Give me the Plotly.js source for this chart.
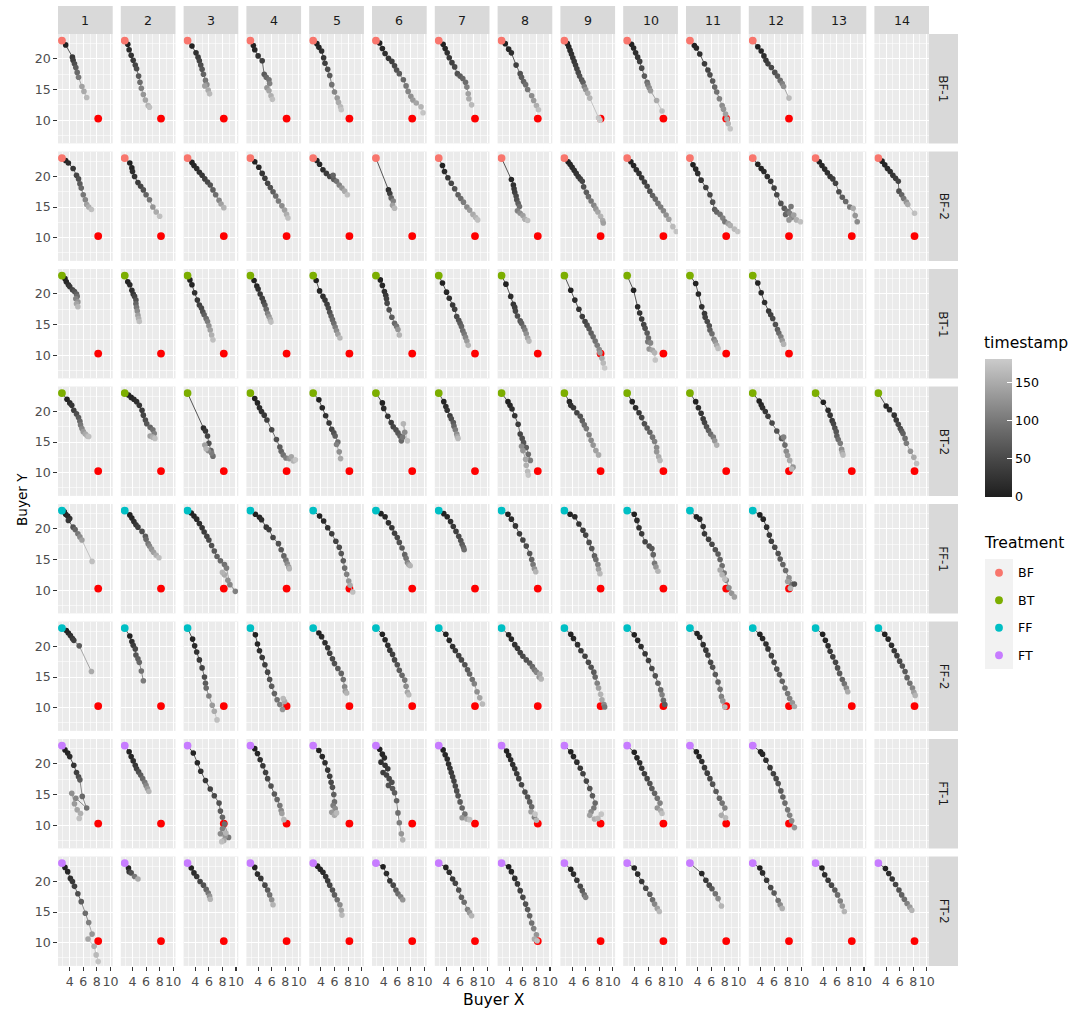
<!DOCTYPE html>
<html>
<head>
<meta charset="utf-8">
<script src="https://cdn.plot.ly/plotly-3.0.1.min.js"></script>
<style>
  html, body { margin: 0; padding: 0; background: #ffffff; }
  #chart { width: 1076px; height: 1016px; }
</style>
</head>
<body>
<div id="chart"></div>
<script>
// Facet rows (session) and columns (round)
const sessions = ['BF-1', 'BF-2', 'BT-1', 'BT-2', 'FF-1', 'FF-2', 'FT-1', 'FT-2'];
const rounds = [1, 2, 3, 4, 5, 6, 7, 8, 9, 10, 11, 12, 13, 14];
const treatments = ['BF', 'BT', 'FF', 'FT'];
const treatmentColors = ['#F8766D', '#7CAE00', '#00BFC4', '#C77CFF'];
const sessionTreatment = ['BF', 'BF', 'BT', 'BT', 'FF', 'FF', 'FT', 'FT'];

// Buyer start position and the seller (target) position
const startPoint = [2.85, 23];
const targetPoint = [8.2, 10.25];

// Buyer positions per round: [Buyer X, Buyer Y, timestamp]; null = round not played
const pathsBF1 = [
  [[3.4,22.3,5],[4.4,20.3,30],[4.5,19.8,40],[4.7,19.2,55],[4.9,18.6,70],[5.1,17.8,85],[5.3,17.0,100],[5.8,15.5,140],[6.1,14.7,150],[6.5,13.7,165]],
  [[3.3,22.4,5],[3.5,21.5,15],[3.8,20.6,25],[4.1,19.8,35],[4.4,19.0,45],[4.6,18.4,55],[4.9,17.2,70],[5.1,16.2,90],[5.3,15.2,110],[5.6,14.2,130],[5.9,13.3,145],[6.3,12.4,160],[6.5,12.1,170]],
  [[3.5,22.1,5],[4.1,21.0,20],[4.4,20.3,35],[4.6,19.7,45],[4.8,19.0,55],[5.0,18.3,65],[5.2,17.5,80],[5.5,16.5,100],[5.7,15.8,120],[5.4,15.6,140],[5.9,14.9,150],[6.1,14.3,165]],
  [[3.3,22.2,3],[3.5,21.5,10],[4.0,20.5,25],[4.6,19.7,40],[4.9,17.5,70],[5.2,17.0,85],[5.6,16.6,95],[5.7,16.0,110],[5.3,15.3,130],[5.6,14.8,145],[5.9,14.0,155],[6.1,13.4,170]],
  [[3.4,22.5,3],[3.7,21.9,10],[4.1,21.3,20],[4.4,20.2,30],[4.6,19.3,40],[5.0,18.3,55],[5.3,17.3,70],[5.6,15.8,95],[6.0,14.6,115],[6.4,13.6,135],[6.6,12.9,150],[6.9,12.2,165],[7.0,11.7,175]],
  [[3.4,22.6,3],[3.8,21.7,10],[4.2,20.9,20],[4.7,20.1,30],[5.2,19.6,40],[5.6,18.9,50],[5.9,18.2,60],[6.3,17.6,70],[6.9,16.6,85],[7.3,15.6,100],[7.6,14.7,115],[8.0,13.9,125],[8.3,13.3,135],[8.8,12.8,145],[9.5,12.2,160],[9.8,11.2,175]],
  [[3.5,22.4,3],[3.8,21.7,10],[4.1,21.0,20],[4.4,20.2,30],[4.8,19.4,40],[5.2,18.7,50],[5.6,17.6,60],[6.0,17.2,70],[6.4,16.8,80],[6.8,16.2,90],[7.0,15.4,110],[7.2,14.3,140],[7.3,13.5,150],[7.7,12.5,165]],
  [[3.4,22.5,3],[3.9,21.6,10],[4.3,21.0,20],[5.0,19.0,40],[5.6,17.6,60],[5.8,17.0,70],[6.1,16.3,80],[6.4,15.8,90],[6.7,15.0,100],[7.3,14.0,120],[7.6,13.2,135],[8.0,12.4,155],[8.3,11.7,170]],
  [[3.3,22.5,3],[3.5,22.0,8],[3.7,21.4,14],[3.9,20.8,20],[4.1,20.2,26],[4.3,19.6,32],[4.5,19.0,38],[4.7,18.4,44],[4.9,17.8,50],[5.1,17.2,58],[5.4,16.6,66],[5.6,16.2,75],[5.8,15.5,110],[6.0,15.0,130],[6.3,14.4,150],[6.6,13.6,160],[7.9,10.4,175],[8.1,10.0,180]],
  [[3.5,22.4,3],[3.8,21.8,10],[4.1,21.0,20],[4.4,20.3,30],[4.7,19.6,40],[5.0,18.5,55],[5.4,17.2,70],[5.8,16.2,90],[5.9,15.8,105],[6.1,15.3,120],[6.3,14.8,135],[7.2,13.2,150],[8.0,11.5,170]],
  [[3.5,22.2,3],[3.8,21.8,10],[4.3,20.8,20],[5.0,19.2,35],[5.5,18.2,45],[5.8,17.4,55],[6.2,16.4,70],[6.5,15.4,85],[6.8,14.6,95],[7.2,13.5,110],[7.6,12.4,120],[7.8,11.8,130],[8.1,11.0,140],[8.3,10.2,150],[8.5,9.4,160],[8.8,8.6,175]],
  [[3.6,22.0,3],[4.1,21.3,10],[4.5,20.5,20],[4.8,19.8,30],[5.1,19.2,40],[5.6,18.6,50],[6.1,17.8,60],[6.5,17.2,70],[6.9,16.5,90],[7.2,16.0,110],[7.4,15.5,125],[8.2,13.6,165]],
  null,
  null
];

const pathsBF2 = [
  [[3.4,22.6,5],[3.8,22.2,15],[4.5,21.3,30],[5.0,20.2,45],[5.3,19.6,55],[5.5,18.8,70],[5.7,18.1,85],[6.0,17.0,100],[6.3,16.2,115],[6.5,15.4,140],[6.8,15.0,155],[7.2,14.6,170]],
  [[3.6,22.2,3],[3.9,21.4,10],[4.0,20.8,18],[4.3,20.0,25],[4.8,19.0,35],[5.2,18.4,45],[5.6,17.8,60],[6.0,17.0,80],[6.5,16.2,100],[7.0,15.0,130],[7.5,14.2,150],[8.0,13.5,170]],
  [[3.5,22.3,3],[3.8,21.8,8],[4.2,21.3,15],[4.6,20.7,22],[5.0,20.2,30],[5.4,19.6,40],[5.8,19.1,50],[6.2,18.6,60],[6.6,17.8,75],[7.0,17.0,90],[7.5,16.1,115],[7.8,15.5,140],[8.2,14.9,160]],
  [[3.5,22.4,3],[4.1,21.5,10],[4.6,20.5,25],[5.0,19.7,35],[5.4,18.9,45],[5.8,18.2,60],[6.2,17.5,75],[6.6,16.8,90],[7.0,16.0,105],[7.5,15.2,120],[7.9,14.5,140],[8.2,13.8,155],[8.4,13.2,170]],
  [[3.4,22.6,3],[3.8,22.0,10],[4.3,21.1,20],[4.8,20.5,35],[5.3,20.0,50],[5.9,19.5,70],[5.8,20.2,80],[6.3,19.2,95],[6.7,18.6,110],[7.1,18.1,130],[7.5,17.6,150],[7.9,17.0,170]],
  [[4.7,17.8,20],[4.9,17.2,40],[5.1,16.5,80],[5.4,16.0,110],[5.3,15.3,140],[5.6,14.8,165]],
  [[3.4,21.8,5],[3.7,20.8,15],[4.2,19.8,30],[4.7,18.9,45],[5.2,18.0,60],[5.7,17.0,75],[6.1,16.4,90],[6.5,15.8,105],[7.0,15.0,120],[7.4,14.5,135],[7.9,13.8,150],[8.3,13.3,160],[8.6,12.9,170]],
  [[4.3,19.5,10],[4.6,18.6,20],[4.7,18.0,30],[4.8,17.4,40],[5.0,16.8,50],[5.1,16.2,60],[5.3,15.6,75],[5.5,15.1,90],[5.2,14.4,110],[5.6,14.0,125],[6.0,13.6,140],[6.3,13.0,155],[6.7,12.8,170]],
  [[3.4,22.4,3],[3.7,22.0,8],[4.0,21.5,14],[4.3,21.0,20],[4.6,20.5,26],[4.9,20.0,32],[5.2,19.6,40],[5.5,19.2,48],[5.7,18.3,58],[6.1,17.4,70],[6.4,16.7,85],[6.8,16.0,100],[7.2,15.3,115],[7.5,14.7,130],[7.8,14.2,145],[8.2,13.5,160],[8.5,12.8,150],[8.6,12.4,140]],
  [[3.4,22.4,3],[3.8,21.8,8],[4.2,21.1,15],[4.6,20.5,22],[5.0,19.8,30],[5.4,19.1,40],[5.8,18.4,50],[6.2,17.6,60],[6.6,16.9,75],[7.0,16.3,85],[7.4,15.6,95],[7.8,15.0,105],[8.2,14.4,115],[8.6,13.7,125],[9.0,13.0,140],[9.6,11.8,165],[10.1,11.0,175]],
  [[3.3,21.9,3],[3.7,21.2,10],[4.0,20.5,18],[4.5,19.4,28],[5.2,18.2,40],[5.8,17.0,50],[6.2,15.8,60],[6.5,14.6,70],[6.8,14.2,80],[7.3,13.8,95],[7.7,13.2,110],[8.0,12.6,100],[8.5,12.3,140],[8.8,12.0,155],[9.4,11.4,165],[9.9,11.0,175]],
  [[3.6,22.0,3],[4.1,21.3,8],[4.5,20.8,15],[5.0,20.0,22],[5.5,19.2,30],[6.0,18.1,40],[6.4,17.0,50],[7.0,15.6,60],[7.5,14.8,70],[7.7,13.8,80],[8.0,14.3,90],[8.5,15.1,100],[8.3,14.0,110],[8.6,13.3,120],[8.2,12.9,130],[8.9,13.7,140],[9.3,12.9,155],[9.9,12.6,170]],
  [[3.4,22.4,3],[3.8,21.8,8],[4.2,21.2,14],[4.6,20.6,20],[5.0,20.0,28],[5.4,19.6,36],[5.8,18.9,45],[6.3,17.5,55],[6.8,16.6,70],[7.3,15.9,85],[7.9,15.0,100],[8.4,14.8,150],[8.7,13.6,130],[9.0,12.6,120]],
  [[3.4,22.5,3],[3.8,21.9,8],[4.2,21.3,14],[4.6,20.8,20],[5.0,20.2,28],[5.4,19.7,36],[5.8,19.2,45],[5.9,17.6,60],[6.3,17.0,80],[6.6,16.4,100],[7.0,15.8,130],[7.2,15.4,150],[8.2,14.0,170]]
];

const pathsBT1 = [
  [[3.3,22.5,3],[3.5,22.0,10],[3.8,21.5,20],[4.0,21.2,30],[4.4,20.7,45],[4.7,20.4,60],[5.0,20.0,75],[5.1,19.6,90],[4.9,19.2,110],[5.2,18.7,130],[5.0,18.4,145],[5.2,17.9,165]],
  [[3.3,22.0,3],[3.6,21.5,10],[3.9,20.6,20],[4.1,20.0,30],[4.3,19.6,45],[4.5,19.0,60],[4.5,18.4,80],[4.6,17.8,100],[4.7,17.2,120],[4.8,16.5,140],[4.9,16.0,155],[5.0,15.5,170]],
  [[3.2,22.3,3],[3.5,21.5,10],[3.9,20.2,20],[4.3,19.0,30],[4.6,18.2,40],[4.9,17.7,50],[5.1,17.1,60],[5.3,16.6,75],[5.6,16.0,90],[5.8,15.5,105],[6.0,14.8,125],[6.2,14.1,140],[6.4,13.3,155],[6.6,12.5,170]],
  [[3.4,22.2,3],[3.8,21.3,10],[4.0,20.8,20],[4.3,20.0,30],[4.6,19.3,40],[4.8,18.7,50],[5.0,18.2,65],[5.2,17.5,85],[5.4,16.8,110],[5.6,16.3,130],[5.8,15.8,150],[5.9,15.4,170]],
  [[3.3,22.2,3],[3.8,20.5,10],[4.3,19.6,20],[4.6,19.0,30],[4.9,18.3,40],[5.1,17.7,50],[5.3,17.0,60],[5.5,16.4,70],[5.7,15.8,80],[5.9,15.2,90],[6.1,14.6,105],[6.3,14.0,120],[6.5,13.4,140],[6.8,12.8,165]],
  [[3.5,22.3,3],[3.8,21.4,10],[4.1,20.4,20],[4.3,19.8,30],[4.4,19.2,40],[4.5,18.5,50],[4.8,17.4,60],[5.2,16.2,70],[5.6,15.2,85],[5.9,14.7,100],[6.1,14.2,130],[6.3,13.3,160]],
  [[3.4,21.8,3],[4.0,20.3,10],[4.4,19.3,20],[4.9,18.2,30],[5.2,17.5,40],[5.5,16.3,50],[5.8,15.7,60],[6.0,15.2,70],[6.2,14.7,80],[6.4,14.0,90],[6.6,13.5,100],[6.8,12.9,115],[7.0,12.3,135],[7.2,11.6,160]],
  [[3.5,21.6,5],[4.2,19.6,15],[4.6,18.3,25],[4.8,17.8,35],[4.9,17.2,45],[5.2,16.4,55],[5.6,15.6,65],[5.8,15.2,75],[6.1,14.6,90],[6.3,14.1,105],[6.5,13.5,125],[6.7,12.8,145],[6.9,12.3,165]],
  [[3.8,20.6,5],[4.4,19.0,15],[5.0,17.5,25],[5.5,16.3,35],[5.9,15.5,45],[6.2,14.9,55],[6.5,14.3,65],[6.8,13.6,75],[7.1,13.0,85],[7.4,12.3,95],[7.7,11.6,105],[8.0,10.9,120],[8.1,10.4,135],[8.4,9.5,150],[8.6,8.7,165],[8.8,7.9,180]],
  [[3.8,20.6,5],[4.4,17.9,15],[4.7,16.9,25],[5.0,15.9,35],[5.3,15.0,45],[5.5,14.4,55],[5.8,13.6,70],[6.0,12.8,85],[5.9,12.2,100],[6.3,12.0,115],[6.1,11.0,130],[6.6,10.8,145],[6.9,10.4,160],[7.0,9.2,175]],
  [[3.7,21.7,3],[4.1,20.0,10],[4.6,17.9,20],[5.0,16.8,30],[5.1,16.2,40],[5.4,15.5,50],[5.7,14.8,60],[5.8,14.1,75],[6.1,13.5,90],[6.4,12.6,110],[6.6,12.2,130],[6.8,11.6,150],[7.0,11.1,170]],
  [[3.6,21.8,3],[4.1,20.2,10],[4.6,18.6,20],[5.2,17.2,30],[5.5,16.6,40],[5.8,16.0,50],[6.2,15.0,60],[6.5,14.2,75],[6.7,13.6,90],[7.0,13.0,110],[7.2,12.4,135],[7.4,11.8,160]],
  null,
  null
];

const pathsBT2 = [
  [[3.6,22.0,5],[4.0,21.4,15],[4.3,21.0,25],[4.6,20.2,40],[5.0,19.6,55],[5.3,19.0,70],[5.5,18.4,85],[5.6,17.8,100],[5.8,17.2,115],[6.0,16.7,135],[6.3,16.3,150],[6.6,16.0,160],[6.8,15.9,170]],
  [[3.4,22.7,3],[3.8,22.3,8],[4.2,22.0,14],[4.6,21.6,20],[5.0,21.0,28],[5.4,20.2,36],[5.6,19.4,45],[5.9,18.6,55],[6.1,18.0,65],[6.6,17.4,80],[7.0,17.0,95],[7.2,16.4,110],[6.6,16.0,140],[7.0,15.8,155],[7.3,15.6,170]],
  [[5.2,17.3,15],[5.5,16.8,30],[5.8,16.0,45],[6.0,14.8,60],[6.3,13.6,75],[6.6,12.7,90],[6.4,13.2,105],[5.9,13.6,120],[5.4,14.5,140],[5.6,13.9,160]],
  [[3.5,22.1,3],[3.9,21.4,8],[4.2,20.6,15],[4.5,20.0,22],[4.9,19.4,30],[5.3,18.6,40],[6.0,17.0,50],[6.7,15.4,60],[7.2,14.2,70],[7.4,13.5,80],[7.7,12.9,95],[8.1,12.4,110],[8.6,12.3,130],[8.9,12.6,145],[9.2,11.9,160],[9.5,12.1,175]],
  [[3.7,21.9,3],[4.2,20.6,10],[4.7,19.3,20],[5.2,18.1,30],[5.6,17.1,45],[5.9,16.5,60],[6.1,16.0,75],[6.5,15.0,90],[6.3,14.6,110],[6.7,13.4,125],[6.9,12.3,150]],
  [[3.8,21.4,5],[4.0,20.5,15],[4.6,19.2,25],[5.1,18.2,35],[5.4,17.5,45],[5.8,17.0,55],[6.1,16.5,65],[6.4,16.0,75],[6.6,15.2,85],[6.8,15.8,100],[7.1,16.6,120],[6.9,18.0,160],[7.5,15.2,170]],
  [[3.6,21.6,5],[3.9,20.8,15],[4.1,20.2,25],[4.5,19.3,40],[4.7,18.8,55],[5.0,18.2,70],[5.1,17.6,85],[5.3,17.0,105],[5.5,16.3,125],[5.6,15.9,145],[5.7,15.6,165]],
  [[3.8,21.6,3],[4.1,21.0,10],[4.4,20.4,18],[4.8,19.3,25],[5.3,17.9,35],[5.6,16.3,45],[5.9,15.6,55],[6.1,14.9,65],[6.5,14.1,75],[6.8,13.0,90],[7.1,12.0,105],[5.8,14.3,120],[6.0,13.6,130],[6.4,12.2,145],[6.5,11.2,155],[6.7,10.2,165],[6.8,9.6,175]],
  [[3.6,21.6,10],[3.8,21.0,20],[4.2,20.6,30],[4.7,19.8,45],[5.2,19.2,60],[5.5,18.5,75],[5.8,17.8,90],[6.1,17.2,100],[6.5,16.2,110],[6.8,15.3,120],[7.1,14.5,130],[7.5,13.6,140],[7.9,12.9,150]],
  [[3.6,21.6,5],[4.1,20.6,15],[4.6,19.8,30],[5.0,19.0,45],[5.4,18.0,60],[5.8,17.3,70],[6.2,16.6,80],[6.6,15.8,95],[6.9,15.1,110],[7.2,14.1,120],[7.2,13.4,130],[7.5,12.6,150],[7.7,12.0,165]],
  [[3.7,21.6,5],[4.1,20.6,15],[4.5,19.7,25],[4.8,18.8,35],[5.0,18.2,45],[5.3,17.5,60],[5.6,16.9,75],[5.9,16.3,90],[6.3,15.8,105],[6.5,15.2,130],[6.8,14.5,155]],
  [[3.8,21.7,3],[4.1,21.1,10],[4.3,20.6,20],[4.7,20.0,30],[5.1,19.2,40],[5.7,18.1,50],[6.4,16.8,60],[7.1,15.6,70],[7.6,14.5,90],[7.4,15.8,110],[7.8,13.5,120],[8.0,12.8,135],[8.3,12.0,150],[8.8,10.9,130],[8.6,10.6,165]],
  [[4.0,21.5,5],[4.7,20.2,15],[5.0,19.4,25],[5.3,18.5,35],[5.5,18.0,45],[5.7,17.3,55],[5.9,16.7,65],[6.0,16.0,75],[6.2,15.4,90],[6.5,14.8,105],[6.7,13.8,125],[6.8,13.3,145],[6.9,12.9,165]],
  [[4.0,20.9,5],[4.5,20.3,15],[5.2,19.4,25],[5.5,18.6,35],[5.8,17.9,45],[6.1,17.2,55],[6.3,16.8,65],[6.5,16.4,75],[6.8,15.6,90],[7.0,14.8,105],[7.6,13.5,130],[8.1,12.5,150],[8.5,11.5,170]]
];

const pathsFF1 = [
  [[3.2,22.8,3],[3.4,22.4,8],[3.7,22.1,14],[4.0,21.7,20],[3.8,21.4,30],[4.5,20.3,60],[4.8,19.9,80],[5.2,19.2,100],[5.5,18.7,120],[5.8,18.2,140],[7.3,14.7,170]],
  [[3.6,22.3,3],[3.9,21.8,10],[4.2,21.2,20],[4.5,20.7,30],[4.8,20.3,40],[5.4,19.6,55],[5.9,18.8,70],[6.0,18.3,85],[6.3,17.6,100],[6.5,17.2,115],[6.8,16.7,130],[7.1,16.2,140],[7.5,15.7,155],[7.9,15.3,170]],
  [[3.4,22.6,3],[3.8,22.1,8],[4.2,21.6,14],[4.6,20.9,20],[5.0,20.2,28],[5.3,19.5,36],[5.7,18.8,44],[6.0,18.2,52],[6.4,17.3,60],[6.8,16.4,68],[7.2,15.5,76],[7.7,14.8,85],[8.3,14.2,95],[8.6,13.6,105],[9.1,10.9,115],[9.9,9.8,110],[8.8,11.6,125],[8.3,12.5,150],[8.0,12.9,160]],
  [[3.6,22.4,3],[4.2,21.9,10],[4.5,21.5,18],[5.2,20.3,28],[5.6,19.9,38],[6.2,18.6,48],[7.0,17.6,58],[7.4,16.6,68],[7.8,15.6,80],[8.1,14.9,100],[8.3,14.3,120],[8.5,13.8,140],[8.6,13.5,160]],
  [[3.8,22.1,5],[4.4,21.3,15],[5.0,20.2,25],[5.6,19.2,35],[6.2,18.0,45],[6.7,17.0,55],[7.0,16.0,65],[7.3,14.8,75],[7.5,13.6,90],[7.8,12.6,110],[8.1,11.5,130],[8.3,10.8,150],[8.7,9.7,170]],
  [[3.6,22.5,3],[4.2,22.0,10],[4.7,21.0,20],[5.2,20.2,30],[5.6,19.3,40],[6.0,18.6,50],[6.3,17.8,60],[6.7,16.9,70],[7.1,15.8,80],[7.3,15.2,95],[7.5,14.5,115],[7.7,14.2,140],[7.9,14.0,160]],
  [[3.6,22.5,3],[4.1,22.0,10],[4.6,21.2,20],[5.0,20.4,30],[5.4,19.6,40],[5.8,18.8,50],[6.1,18.1,60],[6.3,17.5,70],[6.5,17.0,80],[6.6,16.6,90]],
  [[3.8,22.4,5],[4.3,21.6,15],[4.9,20.5,25],[5.5,19.2,35],[6.0,18.2,45],[6.5,17.2,55],[7.0,16.0,65],[7.3,15.0,80],[7.5,14.2,100],[7.7,13.5,130],[7.9,13.0,160]],
  [[3.7,22.4,5],[4.4,22.0,15],[5.0,20.8,25],[5.6,19.8,35],[6.0,19.0,45],[6.5,17.8,55],[6.9,16.8,65],[7.3,15.6,75],[7.5,15.0,90],[7.8,14.2,110],[7.9,13.4,140],[8.1,12.7,165]],
  [[3.9,22.4,5],[4.3,21.4,15],[4.6,20.2,25],[5.0,19.2,35],[5.5,17.9,45],[6.1,17.2,55],[6.5,16.8,65],[6.7,15.8,80],[6.9,14.4,100],[7.1,13.8,130],[7.4,13.1,160]],
  [[3.8,22.0,3],[4.3,21.6,10],[4.8,20.4,20],[5.0,19.2,30],[5.6,18.3,40],[6.1,17.5,50],[6.6,16.6,60],[7.0,15.9,70],[7.3,15.0,80],[7.6,14.0,90],[7.9,12.8,100],[8.2,11.6,110],[8.6,10.4,120],[9.0,9.5,130],[9.4,8.9,140],[7.3,13.3,150],[7.6,12.5,160],[8.0,11.8,170]],
  [[3.9,22.3,3],[4.4,21.6,10],[4.9,20.3,20],[5.3,19.0,30],[5.6,18.0,40],[6.1,17.0,50],[6.6,16.0,60],[6.9,15.1,70],[7.3,14.2,80],[7.7,13.2,90],[8.6,10.9,100],[9.0,11.0,60],[8.2,12.0,120],[8.0,11.4,140],[8.4,10.3,160]],
  null,
  null
];

const pathsFF2 = [
  [[3.5,22.6,3],[3.8,22.2,10],[4.1,21.8,20],[4.4,21.3,30],[4.6,21.0,40],[5.4,20.1,70],[7.2,15.9,150]],
  [[3.6,21.7,5],[3.9,20.8,20],[4.1,20.2,35],[4.4,19.6,50],[4.5,18.6,65],[4.8,18.0,75],[5.0,17.4,85],[5.3,16.0,95],[5.6,14.4,105]],
  [[3.6,21.2,5],[3.9,20.1,15],[4.2,19.1,25],[4.6,17.8,35],[5.0,16.5,45],[5.35,15.0,55],[5.5,14.0,70],[5.6,13.2,85],[6.0,11.9,110],[6.5,10.4,135],[6.8,9.4,150],[7.2,8.0,170]],
  [[3.6,21.9,3],[3.9,20.4,10],[4.2,19.3,20],[4.6,18.2,30],[5.0,17.0,40],[5.4,15.8,50],[5.7,14.6,60],[6.0,13.5,70],[6.4,12.3,80],[6.8,11.3,95],[7.2,10.5,110],[7.6,9.7,130],[7.9,11.0,150],[7.7,11.5,165]],
  [[3.7,22.2,3],[4.1,21.6,10],[4.6,20.6,20],[5.0,19.8,30],[5.3,18.9,40],[5.7,18.0,50],[6.0,17.2,60],[6.5,16.4,70],[7.0,15.6,80],[7.3,14.6,95],[7.5,13.4,115],[7.6,12.7,140],[7.8,12.4,160]],
  [[3.8,22.0,3],[4.2,21.1,10],[4.6,20.2,20],[4.9,19.4,30],[5.3,18.7,40],[5.6,17.8,50],[6.0,17.0,60],[6.3,16.1,70],[6.7,15.3,85],[7.1,14.5,100],[7.3,13.5,120],[7.5,12.5,145],[7.7,12.1,165]],
  [[3.9,22.0,3],[4.4,21.0,10],[4.9,20.0,20],[5.3,19.3,30],[5.8,18.5,40],[6.2,17.8,50],[6.7,17.0,60],[7.1,16.2,70],[7.4,15.5,80],[7.8,14.6,95],[8.1,13.9,110],[8.5,12.6,125],[8.9,11.6,145],[9.3,10.6,165]],
  [[3.9,21.9,3],[4.3,21.2,10],[4.8,20.3,20],[5.2,19.7,30],[5.6,19.0,40],[6.0,18.4,50],[6.5,17.8,60],[7.0,17.3,70],[7.4,16.7,85],[7.7,16.2,100],[8.0,15.8,115],[8.4,15.0,130],[8.5,15.5,145],[8.7,14.7,160]],
  [[3.8,22.0,3],[4.2,21.3,10],[4.8,20.3,20],[5.3,19.3,30],[5.9,18.4,40],[6.4,17.4,50],[6.8,16.6,60],[7.2,15.8,70],[7.4,15.0,85],[7.7,14.0,110],[7.9,13.2,140],[8.2,12.2,160],[8.4,11.3,150],[8.7,10.5,120],[8.8,10.1,100]],
  [[3.9,21.9,3],[4.4,21.0,10],[4.9,20.0,20],[5.5,18.8,30],[6.0,17.7,40],[6.5,16.4,50],[7.0,15.2,60],[7.4,14.0,75],[7.8,12.9,90],[8.0,12.1,110],[8.2,11.2,90],[8.4,10.5,70]],
  [[3.9,22.1,3],[4.3,21.5,10],[4.8,20.3,20],[5.2,19.4,30],[5.5,18.6,40],[5.9,17.4,50],[6.2,16.6,60],[6.6,15.4,70],[7.0,14.2,80],[7.3,13.0,95],[7.5,11.8,110],[7.7,11.1,130],[8.0,10.1,165]],
  [[3.9,22.0,3],[4.3,21.3,10],[4.8,20.4,20],[5.1,19.6,30],[5.6,18.5,40],[6.0,17.4,50],[6.4,16.3,60],[6.8,15.4,70],[7.2,14.3,80],[7.6,13.2,90],[8.0,12.3,100],[8.3,11.5,110],[8.7,10.8,130],[9.0,10.2,150]],
  [[3.9,22.0,3],[4.3,21.0,10],[4.7,20.1,20],[5.0,19.2,30],[5.4,18.3,40],[5.8,17.4,50],[6.1,16.5,60],[6.4,15.6,70],[6.8,14.6,80],[7.1,13.9,95],[7.4,13.2,120],[7.6,12.6,150]],
  [[3.8,22.0,3],[4.3,21.2,10],[4.8,20.2,20],[5.2,19.3,30],[5.6,18.5,40],[6.0,17.6,50],[6.4,16.8,60],[6.8,15.9,70],[7.1,14.9,80],[7.5,14.0,95],[7.9,13.2,115],[8.1,12.5,140],[8.3,12.0,160]]
];

const pathsFT1 = [
  [[3.3,22.3,3],[3.7,21.8,8],[4.0,21.2,15],[4.6,19.8,25],[5.0,18.6,40],[5.3,17.9,55],[5.5,17.4,70],[5.85,14.7,85],[6.5,12.8,95],[4.9,14.4,115],[4.3,15.2,125],[4.7,13.5,135],[5.1,12.5,145],[5.6,11.9,155],[5.4,11.1,170]],
  [[3.5,22.0,3],[3.8,21.2,10],[4.1,20.5,20],[4.4,19.8,30],[4.6,19.2,40],[4.9,18.7,55],[5.2,18.2,70],[5.5,17.6,85],[5.8,17.0,100],[6.0,16.5,115],[6.2,16.0,135],[6.4,15.5,160]],
  [[3.7,21.8,3],[4.3,20.2,10],[4.8,18.8,20],[5.5,17.3,30],[6.2,15.9,40],[6.8,14.8,50],[7.5,13.6,60],[7.7,12.3,70],[8.0,11.3,80],[8.3,10.2,90],[8.9,8.0,100],[8.0,9.4,110],[7.7,8.6,120],[8.4,8.2,130],[8.2,7.5,150],[8.5,8.7,160],[7.9,7.3,170]],
  [[3.5,22.5,3],[3.9,21.7,10],[4.3,20.7,20],[4.7,19.7,30],[5.1,18.6,40],[5.4,17.6,50],[5.9,16.4,60],[6.4,15.1,70],[6.8,14.2,85],[7.2,13.2,100],[7.4,12.4,120],[7.5,11.9,140],[7.8,10.9,165]],
  [[3.7,22.2,3],[4.2,21.2,10],[4.6,20.2,20],[5.0,19.0,30],[5.3,18.0,40],[5.5,17.0,50],[5.7,16.2,60],[5.9,15.0,75],[6.0,13.8,90],[5.8,13.2,105],[6.1,12.7,120],[5.6,12.1,135],[6.0,11.6,150],[6.3,12.0,165]],
  [[3.4,22.4,3],[3.8,21.6,8],[4.1,21.0,14],[3.6,20.3,20],[4.2,19.8,26],[4.6,19.2,32],[3.9,18.6,38],[4.4,18.2,44],[4.8,17.6,50],[5.2,17.0,56],[4.7,16.5,62],[5.3,16.0,68],[5.6,15.3,74],[5.9,14.0,80],[6.1,12.0,90],[6.3,10.4,105],[6.6,8.6,130],[6.8,7.6,160]],
  [[3.5,22.3,3],[3.8,21.5,8],[4.1,20.8,14],[4.3,20.0,20],[4.5,19.3,26],[4.7,18.6,32],[4.9,17.9,38],[5.1,17.2,44],[5.3,16.4,50],[5.5,15.6,56],[5.7,14.8,64],[6.0,13.8,72],[6.3,12.8,80],[6.7,11.8,95],[6.3,11.2,130],[7.0,11.0,150],[7.4,10.9,170]],
  [[3.6,22.1,3],[3.9,21.4,8],[4.2,20.7,14],[4.5,19.9,20],[4.8,19.2,26],[5.1,18.4,32],[5.4,17.6,40],[5.8,16.6,48],[6.3,15.4,56],[6.7,14.6,64],[7.0,13.8,72],[7.3,13.0,85],[7.7,11.3,110],[7.2,12.2,140],[8.0,10.8,160],[7.8,11.8,175]],
  [[3.8,22.0,3],[4.2,21.2,10],[4.7,20.3,20],[5.2,19.3,30],[5.6,18.4,40],[6.1,17.2,50],[6.6,16.0,60],[7.0,14.8,70],[7.4,13.6,85],[7.2,12.8,100],[6.8,12.2,120],[6.6,11.6,140],[7.3,11.0,155],[7.8,11.1,165],[8.3,11.8,175]],
  [[3.9,21.9,3],[4.3,21.0,10],[4.7,20.2,20],[5.0,19.3,30],[5.4,18.4,40],[5.8,17.6,50],[6.2,16.8,60],[6.5,16.0,70],[6.9,15.2,80],[7.3,14.4,95],[7.7,13.6,110],[7.3,12.8,130],[7.8,12.4,150],[8.0,11.9,170]],
  [[3.8,22.0,3],[4.2,21.2,10],[4.6,20.4,20],[5.0,19.4,30],[5.4,18.5,40],[5.8,17.6,50],[6.2,16.7,60],[6.7,15.5,70],[7.2,14.4,80],[7.6,13.6,95],[8.0,12.8,110],[7.5,11.6,150],[8.1,11.2,165]],
  [[4.0,22.0,3],[4.3,21.6,10],[4.8,20.6,20],[5.4,19.4,30],[5.9,18.4,40],[6.3,17.6,50],[6.6,16.8,60],[7.0,15.6,70],[7.3,14.6,80],[7.6,13.6,90],[8.0,12.5,100],[8.3,11.6,110],[8.6,10.7,120],[9.0,9.6,130]],
  null,
  null
];

const pathsFT2 = [
  [[3.3,22.3,3],[3.7,21.6,10],[4.1,20.5,20],[4.4,20.0,30],[4.7,19.2,40],[5.2,18.0,55],[5.7,16.7,70],[6.3,14.8,90],[6.8,13.3,110],[7.3,11.4,130],[6.7,10.6,145],[7.6,9.4,155],[7.9,8.0,165],[8.2,6.9,175]],
  [[3.4,22.2,5],[3.5,21.6,30],[3.8,21.4,60],[4.3,20.8,100],[4.8,20.4,150]],
  [[3.4,22.2,3],[3.8,21.4,15],[4.2,20.8,30],[4.7,20.0,45],[5.2,19.4,60],[5.6,18.7,80],[5.9,18.1,100],[6.1,17.6,130],[6.2,17.1,160]],
  [[3.5,22.3,3],[3.9,21.2,15],[4.4,20.5,30],[5.0,19.4,50],[5.4,18.6,70],[5.7,17.8,95],[6.0,17.0,125],[6.2,16.2,160]],
  [[3.5,22.5,3],[3.9,22.0,8],[4.3,21.5,15],[4.7,20.8,25],[5.0,20.1,35],[5.3,19.4,45],[5.7,18.6,60],[6.0,17.8,75],[6.4,17.0,95],[6.8,16.2,120],[7.0,15.3,145],[7.1,14.5,165]],
  [[3.9,22.4,3],[4.4,21.3,15],[4.9,20.1,30],[5.4,19.4,50],[5.8,18.6,70],[6.1,18.0,90],[6.5,17.5,110],[6.8,17.0,130]],
  [[3.9,22.3,3],[4.4,21.5,15],[4.9,20.4,30],[5.3,19.7,45],[5.8,18.6,60],[6.2,17.4,75],[6.6,16.6,90],[7.1,15.4,110],[7.4,14.9,135],[7.7,14.4,160]],
  [[3.9,22.4,3],[4.3,21.6,10],[4.8,20.5,20],[5.2,19.6,30],[5.6,18.5,40],[6.0,17.4,50],[6.4,16.3,60],[6.7,15.4,70],[7.0,14.4,80],[7.3,13.2,95],[7.6,12.3,110],[8.0,11.3,130],[7.7,10.6,150],[8.1,10.3,170]],
  [[3.8,22.0,3],[4.2,21.2,15],[4.7,20.2,30],[5.2,19.2,50],[5.5,18.5,70],[5.8,17.8,90],[6.0,17.4,110]],
  [[3.9,22.2,3],[4.4,21.2,15],[5.0,20.0,30],[5.6,18.9,50],[6.2,17.9,70],[6.6,17.0,90],[6.9,16.3,115],[7.3,15.6,140],[7.6,15.1,165]],
  [[4.6,21.3,10],[5.2,20.2,30],[5.7,19.4,50],[6.1,18.8,70],[6.6,18.0,95],[7.0,17.2,120],[7.5,16.0,160]],
  [[3.9,22.2,3],[4.3,21.4,15],[4.9,20.2,30],[5.5,19.0,50],[6.0,18.1,70],[6.6,16.9,95],[6.9,16.2,120],[7.2,15.6,155]],
  [[3.8,22.2,3],[4.2,21.1,15],[4.7,20.2,30],[5.2,19.4,50],[5.7,18.6,70],[6.1,17.8,90],[6.5,16.8,110],[6.8,16.0,135],[7.1,15.1,160]],
  [[3.9,22.1,3],[4.4,21.3,15],[4.9,20.4,30],[5.4,19.5,45],[5.9,18.6,60],[6.3,17.8,75],[6.7,17.1,90],[7.1,16.4,110],[7.5,15.8,135],[7.8,15.3,160]]
];

const sessionPaths = [pathsBF1, pathsBF2, pathsBT1, pathsBT2, pathsFF1, pathsFF2, pathsFT1, pathsFT2];

// Axis scales and ticks
const xRange = [2.27, 10.34];
const yRange = [6.2, 24.08];
const xTicks = [4, 6, 8, 10];
const xMinor = [3, 5, 7, 9];
const yTicks = [10, 15, 20];
const yMinor = [7.5, 12.5, 17.5, 22.5];
const tsTicks = [0, 50, 100, 150];
const tsMax = 182;

// ---- styling / geometry ----
const FONT = 'DejaVu Sans, Verdana, sans-serif';
const SZ_TICK = 12.6, SZ_TITLE = 15.6, SZ_STRIP_TOP = 12.6, SZ_STRIP_SIDE = 12;
const W = 1076, H = 1016;
const M = { l: 58, r: 147, t: 34, b: 50 };
const PW = W - M.l - M.r;   // 871
const PH = H - M.t - M.b;   // 932
const panelW = 54.7, panelGapX = 8.1;
const panelH = 109.4, panelGapY = 8.1;
const stripH = 28, stripW = 29;
const barTop = 359, barBottom = 496.5, barLeft = 985, barWidth = 27;

const grayStops = [[0, '#1e1e1e'], [0.25, '#444444'], [0.5, '#6e6e6e'], [0.75, '#9c9c9c'], [1, '#cbcbcb']];

function shade(t) {
  const f = Math.max(0, Math.min(1, t / tsMax));
  for (let i = 1; i < grayStops.length; i++) {
    if (f <= grayStops[i][0]) {
      const a = grayStops[i - 1], b = grayStops[i];
      const u = (f - a[0]) / (b[0] - a[0]);
      const va = parseInt(a[1].slice(1, 3), 16), vb = parseInt(b[1].slice(1, 3), 16);
      const h = Math.round(va + (vb - va) * u).toString(16).padStart(2, '0');
      return '#' + h + h + h;
    }
  }
  return grayStops[grayStops.length - 1][1];
}

function colDomain(c) {
  const x0 = c * (panelW + panelGapX) / PW;
  return [x0, Math.min(1, x0 + panelW / PW)];
}
function rowDomain(r) {
  const top = 1 - r * (panelH + panelGapY) / PH;
  return [Math.max(0, top - panelH / PH), top];
}
const px2x = px => (px - M.l) / PW;
const py2y = py => 1 - (py - M.t) / PH;

const traces = [];
const layout = {
  width: W, height: H,
  margin: M,
  paper_bgcolor: '#ffffff',
  plot_bgcolor: '#EBEBEB',
  showlegend: false,
  font: { family: FONT, color: '#4D4D4D', size: SZ_TICK },
  shapes: [],
  annotations: []
};

rounds.forEach((rd, c) => {
  const key = c === 0 ? 'xaxis' : 'xaxis' + (c + 1);
  layout[key] = {
    domain: colDomain(c), anchor: 'y' + sessions.length, range: xRange,
    tickvals: xTicks, ticktext: xTicks.map(String), ticks: 'outside', ticklen: 3.7, tickwidth: 1.07,
    tickcolor: '#333333', tickangle: 0, tickfont: { family: FONT, size: SZ_TICK, color: '#4D4D4D' },
    showgrid: true, gridcolor: '#FFFFFF', gridwidth: 1.07,
    minor: { tickvals: xMinor, showgrid: true, gridcolor: '#FFFFFF', gridwidth: 0.55, ticks: '' },
    zeroline: false, showline: false, fixedrange: true, automargin: false
  };
  // column strip
  const d = colDomain(c);
  layout.shapes.push({ type: 'rect', xref: 'paper', yref: 'paper', x0: d[0], x1: d[1], y0: 1, y1: 1 + stripH / PH,
    fillcolor: '#D9D9D9', line: { width: 0 }, layer: 'below' });
  layout.annotations.push({ xref: 'paper', yref: 'paper', x: (d[0] + d[1]) / 2, y: 1 + stripH / PH / 2,
    text: String(rd), showarrow: false, xanchor: 'center', yanchor: 'middle',
    font: { family: FONT, size: SZ_STRIP_TOP, color: '#1A1A1A' } });
});

sessions.forEach((s, r) => {
  const key = r === 0 ? 'yaxis' : 'yaxis' + (r + 1);
  layout[key] = {
    domain: rowDomain(r), anchor: 'x', range: yRange,
    tickvals: yTicks, ticks: 'outside', ticklen: 3.7, tickwidth: 1.07, tickcolor: '#333333',
    tickfont: { family: FONT, size: SZ_TICK, color: '#4D4D4D' },
    showgrid: true, gridcolor: '#FFFFFF', gridwidth: 1.07,
    minor: { tickvals: yMinor, showgrid: true, gridcolor: '#FFFFFF', gridwidth: 0.55, ticks: '' },
    zeroline: false, showline: false, fixedrange: true, automargin: false
  };
  const d = rowDomain(r);
  layout.shapes.push({ type: 'rect', xref: 'paper', yref: 'paper', x0: 1, x1: 1 + stripW / PW, y0: d[0], y1: d[1],
    fillcolor: '#D9D9D9', line: { width: 0 }, layer: 'below' });
  layout.annotations.push({ xref: 'paper', yref: 'paper', x: 1 + stripW / PW / 2, y: (d[0] + d[1]) / 2,
    text: s, showarrow: false, textangle: 90, xanchor: 'center', yanchor: 'middle',
    font: { family: FONT, size: SZ_STRIP_SIDE, color: '#1A1A1A' } });
});

let scaleShown = false;
sessions.forEach((s, r) => {
  const ya = r === 0 ? 'y' : 'y' + (r + 1);
  const tColor = treatmentColors[treatments.indexOf(sessionTreatment[r])];
  rounds.forEach((rd, c) => {
    const xa = c === 0 ? 'x' : 'x' + (c + 1);
    const path = sessionPaths[r][c];
    if (!path) {
      // keep the empty panel
      traces.push({ type: 'scatter', mode: 'markers', x: [null], y: [null], xaxis: xa, yaxis: ya, hoverinfo: 'skip' });
      return;
    }
    // seller position
    traces.push({ type: 'scatter', mode: 'markers', x: [targetPoint[0]], y: [targetPoint[1]], xaxis: xa, yaxis: ya,
      marker: { color: '#FF0000', size: 7.8 }, hoverinfo: 'skip' });

    // path segments, shaded by timestamp (grouped into bands)
    const pts = [[startPoint[0], startPoint[1], 0]].concat(path);
    const nb = 5;
    const bands = Array.from({ length: nb }, () => ({ x: [], y: [] }));
    for (let i = 0; i < pts.length - 1; i++) {
      const tm = (pts[i][2] + pts[i + 1][2]) / 2;
      const b = Math.min(nb - 1, Math.floor(tm / (tsMax / nb)));
      bands[b].x.push(pts[i][0], pts[i + 1][0], null);
      bands[b].y.push(pts[i][1], pts[i + 1][1], null);
    }
    bands.forEach((bd, b) => {
      if (!bd.x.length) return;
      traces.push({ type: 'scatter', mode: 'lines', x: bd.x, y: bd.y, xaxis: xa, yaxis: ya,
        line: { color: shade((b + 0.5) * tsMax / nb), width: 0.8 }, connectgaps: false, hoverinfo: 'skip' });
    });

    // buyer positions
    const mk = { color: path.map(p => p[2]), cmin: 0, cmax: tsMax, colorscale: grayStops, size: 5.6,
      line: { width: 0 }, showscale: false };
    if (!scaleShown) {
      scaleShown = true;
      mk.showscale = true;
      mk.colorbar = {
        thickness: barWidth, thicknessmode: 'pixels', len: barBottom - barTop, lenmode: 'pixels',
        x: px2x(barLeft), xanchor: 'left', xref: 'paper',
        y: py2y(barBottom), yanchor: 'bottom', yref: 'paper',
        xpad: 0, ypad: 0, outlinewidth: 0,
        tickvals: tsTicks, ticks: 'inside', ticklen: 5, tickwidth: 1, tickcolor: '#FFFFFF',
        tickfont: { family: FONT, size: SZ_TICK, color: '#000000' }
      };
    }
    traces.push({ type: 'scatter', mode: 'markers', x: path.map(p => p[0]), y: path.map(p => p[1]),
      xaxis: xa, yaxis: ya, marker: mk, hoverinfo: 'skip' });

    // buyer start
    traces.push({ type: 'scatter', mode: 'markers', x: [startPoint[0]], y: [startPoint[1]], xaxis: xa, yaxis: ya,
      marker: { color: tColor, size: 7.8 }, hoverinfo: 'skip' });
  });
});

// axis titles
layout.annotations.push({ xref: 'paper', yref: 'paper', x: 0.5, y: py2y(1000), text: 'Buyer X',
  showarrow: false, xanchor: 'center', yanchor: 'middle', font: { family: FONT, size: SZ_TITLE, color: '#000000' } });
layout.annotations.push({ xref: 'paper', yref: 'paper', x: px2x(22), y: 0.5, text: 'Buyer Y', textangle: -90,
  showarrow: false, xanchor: 'center', yanchor: 'middle', font: { family: FONT, size: 13.6, color: '#000000' } });

// colour bar title and its left-side white ticks
layout.annotations.push({ xref: 'paper', yref: 'paper', x: px2x(982), y: py2y(343), text: 'timestamp',
  showarrow: false, xanchor: 'left', yanchor: 'middle', font: { family: FONT, size: SZ_TITLE, color: '#000000' } });
tsTicks.forEach(v => {
  const yp = py2y(barBottom - v * ((barBottom - barTop) / tsMax));
  layout.shapes.push({ type: 'line', xref: 'paper', yref: 'paper', x0: px2x(barLeft), x1: px2x(barLeft + 5),
    y0: yp, y1: yp, line: { color: '#FFFFFF', width: 1 }, layer: 'above' });
});

// Treatment key
const keyTop = 559, keyStep = 27.5;
layout.shapes.push({ type: 'rect', xref: 'paper', yref: 'paper', x0: px2x(985), x1: px2x(1013),
  y0: py2y(keyTop + keyStep * treatments.length), y1: py2y(keyTop),
  fillcolor: '#F2F2F2', line: { width: 0 } });
layout.annotations.push({ xref: 'paper', yref: 'paper', x: px2x(982), y: py2y(543), text: 'Treatment',
  showarrow: false, xanchor: 'left', yanchor: 'middle', font: { family: FONT, size: SZ_TITLE, color: '#000000' } });
treatments.forEach((tr, i) => {
  const yp = py2y(keyTop + keyStep * (i + 0.5));
  layout.shapes.push({ type: 'circle', xref: 'paper', yref: 'paper', xsizemode: 'pixel', ysizemode: 'pixel',
    xanchor: px2x(999), yanchor: yp, x0: -3.9, x1: 3.9, y0: -3.9, y1: 3.9,
    fillcolor: treatmentColors[i], line: { width: 0 } });
  layout.annotations.push({ xref: 'paper', yref: 'paper', x: px2x(1016), y: yp, text: tr,
    showarrow: false, xanchor: 'left', yanchor: 'middle', font: { family: FONT, size: SZ_TICK, color: '#000000' } });
});

Plotly.newPlot('chart', traces, layout, { displayModeBar: false, staticPlot: true });
</script>
</body>
</html>
